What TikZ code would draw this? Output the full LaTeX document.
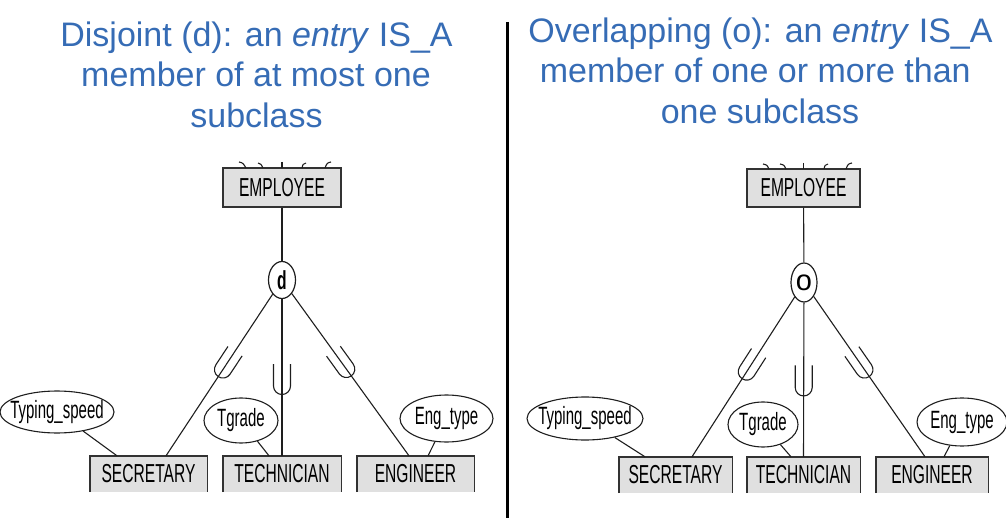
\documentclass[tikz,border=0pt]{standalone}
\usepackage{fontspec}
\setmainfont{Liberation Sans}
\newfontfamily\cond[FakeStretch=0.6]{Liberation Sans}
\usetikzlibrary{shapes.geometric,decorations.markings}
\definecolor{titleblue}{RGB}{54,108,181}
\definecolor{linecol}{RGB}{30,30,30}
\definecolor{boxfill}{RGB}{224,224,224}
\definecolor{boxborder}{RGB}{50,50,50}
\begin{document}
\begin{tikzpicture}[x=1pt,y=-1pt,
  conn/.style={draw=linecol, line width=1.1pt},
  entbox/.style={fill=boxfill, inner sep=0pt, minimum height=36pt, font=\cond\fontsize{26}{26}\selectfont, text=black},
  supbox/.style={fill=boxfill, draw=boxborder, line width=1.4pt, inner sep=0pt, font=\cond\fontsize{26}{26}\selectfont, text=black},
  border/.style={draw=boxborder, line width=1.4pt},
  attr/.style={ellipse, draw=linecol, line width=1.1pt, inner sep=0pt, font=\cond\fontsize{25}{25}\selectfont},
  circ/.style={ellipse, draw=linecol, line width=1.2pt, inner sep=0pt},
  title/.style={text=titleblue, font=\fontsize{34}{40}\selectfont, anchor=base, inner sep=0pt},
  ushape/.style={postaction={decorate}, decoration={markings, mark=at position #1 with {\draw[conn] (-15pt,8.5pt) -- (7pt,8.5pt) arc[start angle=90, end angle=-90, radius=8.5pt] -- (-15pt,-8.5pt);}}}
]
\useasboundingbox (0,0) rectangle (1006,518);

% titles
\node[title] (tl1) at (256.5,47) {Disjoint (d): an \textit{entry} IS\_A};
\node[title] (tl2) at (256,87) {member of at most one};
\node[title] (tl3) at (256.5,128) {subclass};
\node[title] (tr1) at (760.5,43) {Overlapping (o): an \textit{entry} IS\_A};
\node[title] (tr2) at (760,83) {member of one or more than\hspace*{0.28em}};
\node[title] (tr3) at (760,124) {one subclass};

% divider
\coordinate (dtop) at (507,22);
\coordinate (dbot) at (507,518);
\draw[line width=3pt, black] (dtop) -- (dbot);

% ---------------- left diagram ----------------
\node[supbox, minimum width=118pt, minimum height=39pt] (emp1) at (282,187.5) {EMPLOYEE};
\draw[conn] (239,162) .. controls (243,163) .. (246,168);
\draw[conn] (258,163) .. controls (261,164) .. (263,168);
\draw[conn] (282,162) -- (282,168);
\draw[conn] (306,163) .. controls (303,164) .. (302,168);
\draw[conn] (331,162) .. controls (327,163) .. (325,168);

\node[circ, minimum width=27pt, minimum height=37pt, font=\cond\bfseries\fontsize{26}{26}\selectfont] (d1) at (282,280) {\makebox[0pt]{d}};

\node[entbox, minimum width=117pt] (sec1) at (148.5,474) {SECRETARY};
\node[entbox, minimum width=118pt] (tech1) at (282,474) {TECHNICIAN};
\node[entbox, minimum width=117pt] (eng1) at (415.5,474) {ENGINEER};
\foreach \n in {sec1,tech1,eng1}
  \draw[border] (\n.south west) -- (\n.north west) -- (\n.north east) -- (\n.south east);

\node[attr, minimum width=114pt, minimum height=42pt] (ts1) at (57,412) {\makebox[0pt]{Typing\_speed}};
\node[attr, minimum width=74pt, minimum height=45pt] (tg1) at (241,420.5) {\makebox[0pt]{Tgrade}};
\node[attr, minimum width=93pt, minimum height=47pt] (et1) at (446.5,418.5) {\makebox[0pt]{Eng\_type}};

\draw[conn] (emp1) -- (d1);
\draw[conn, ushape=0.43] (d1) -- ([xshift=17.5pt]sec1.north);
\draw[conn, ushape=0.51] (d1) -- (tech1.north);
\draw[conn, ushape=0.43] (d1) -- ([xshift=-6.5pt]eng1.north);
\draw[conn] (ts1) -- ([xshift=-31.5pt]sec1.north);
\draw[conn] (tg1) -- ([xshift=-13pt]tech1.north);
\draw[conn] (et1) -- ([xshift=12.5pt]eng1.north);

% ---------------- right diagram ----------------
\node[supbox, minimum width=113pt, minimum height=38pt] (emp2) at (803.5,188) {EMPLOYEE};
\draw[conn] (763,164) .. controls (767,165) .. (769,169);
\draw[conn] (780,164) .. controls (784,165) .. (786,169);
\draw[conn] (803.5,163) -- (803.5,169);
\draw[conn] (828,164) .. controls (825,165) .. (824,169);
\draw[conn] (852,163) .. controls (848,164) .. (846,169);

\node[circ, minimum width=26pt, minimum height=39pt, font=\fontsize{29}{29}\selectfont] (o2) at (804,282.5) {\makebox[0pt]{o}};

\node[entbox, minimum width=113pt] (sec2) at (675.5,475) {SECRETARY};
\node[entbox, minimum width=113pt] (tech2) at (803.5,475) {TECHNICIAN};
\node[entbox, minimum width=112pt] (eng2) at (932,475) {ENGINEER};
\foreach \n in {sec2,tech2,eng2}
  \draw[border] (\n.south west) -- (\n.north west) -- (\n.north east) -- (\n.south east);

\node[attr, minimum width=116pt, minimum height=43pt] (ts2) at (585,418.5) {\makebox[0pt]{Typing\_speed}};
\node[attr, minimum width=70pt, minimum height=45pt] (tg2) at (763,424.5) {\makebox[0pt]{Tgrade}};
\node[attr, minimum width=90pt, minimum height=48pt] (et2) at (962,422) {\makebox[0pt]{Eng\_type}};

\draw[conn] (emp2) -- (o2);
\draw[conn, ushape=0.43] (o2) -- ([xshift=16.5pt]sec2.north);
\draw[conn, ushape=0.505] (o2) -- (tech2.north);
\draw[conn, ushape=0.42] (o2) -- ([xshift=-7pt]eng2.north);
\draw[conn] (ts2) -- ([xshift=-30.5pt]sec2.north);
\draw[conn] (tg2) -- ([xshift=-12.5pt]tech2.north);
\draw[conn] (et2) -- ([xshift=12pt]eng2.north);
\end{tikzpicture}
\end{document}
